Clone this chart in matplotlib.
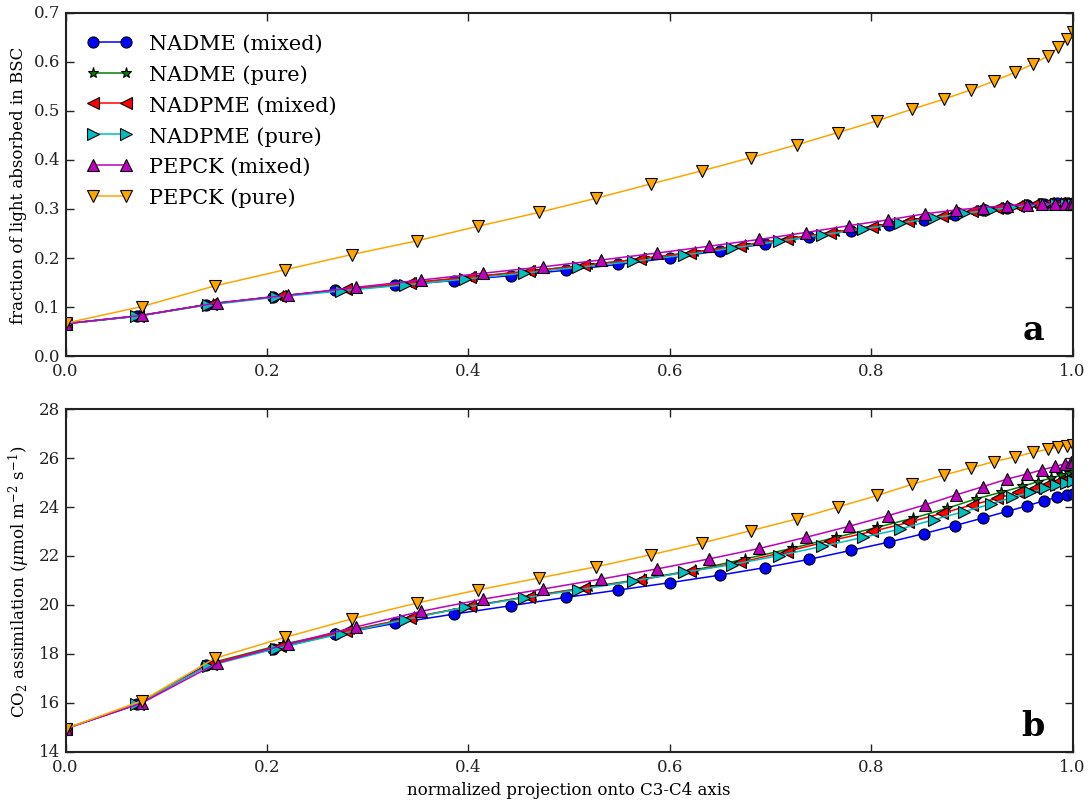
import matplotlib
matplotlib.use("Agg")
import matplotlib.pyplot as plt

plt.style.use('classic')
plt.rcParams['font.family'] = ['DejaVu Serif']
plt.rcParams['mathtext.fontset'] = 'dejavuserif'

# series: x positions on the C3-C4 axis, light fraction (a), assimilation (b)
labels = ['NADME (mixed)', 'NADME (pure)', 'NADPME (mixed)',
          'NADPME (pure)', 'PEPCK (mixed)', 'PEPCK (pure)']

x_nadme_mix = [0, 0.071, 0.140, 0.206, 0.268, 0.327, 0.386, 0.442, 0.497, 0.549, 0.600, 0.650, 0.695,
               0.738, 0.780, 0.818, 0.852, 0.883, 0.911, 0.935, 0.955, 0.972, 0.985, 0.994, 1.0]
x_nadme_pure = [0, 0.073, 0.146, 0.216, 0.283, 0.346, 0.406, 0.464, 0.520, 0.574, 0.625, 0.675, 0.721,
                0.765, 0.806, 0.842, 0.875, 0.904, 0.929, 0.950, 0.966, 0.979, 0.989, 0.996, 1.0]
x_nadpme_mix = [0, 0.072, 0.144, 0.213, 0.279, 0.342, 0.402, 0.460, 0.515, 0.570, 0.620, 0.670, 0.716,
                0.759, 0.801, 0.837, 0.870, 0.900, 0.925, 0.946, 0.963, 0.976, 0.987, 0.994, 1.0]
x_nadpme_pure = [0, 0.070, 0.141, 0.209, 0.274, 0.337, 0.397, 0.455, 0.509, 0.564, 0.614, 0.662, 0.708,
                 0.751, 0.792, 0.829, 0.862, 0.892, 0.919, 0.940, 0.958, 0.973, 0.984, 0.993, 1.0]
x_pepck_mix = [0, 0.076, 0.150, 0.221, 0.288, 0.353, 0.415, 0.474, 0.532, 0.587, 0.639, 0.689, 0.735,
               0.778, 0.817, 0.853, 0.884, 0.911, 0.935, 0.955, 0.970, 0.983, 0.992, 0.998, 1.0]
x_pepck_pure = [0, 0.076, 0.148, 0.218, 0.284, 0.349, 0.410, 0.470, 0.527, 0.581, 0.632, 0.681, 0.726,
                0.767, 0.806, 0.841, 0.872, 0.899, 0.922, 0.943, 0.961, 0.976, 0.986, 0.994, 1.0]

light_nadme_mix = [0.066, 0.081, 0.105, 0.121, 0.134, 0.144, 0.154, 0.164, 0.175, 0.187, 0.200, 0.215, 0.229,
                   0.243, 0.256, 0.267, 0.278, 0.288, 0.297, 0.303, 0.308, 0.311, 0.312, 0.312, 0.312]
light_nadme_pure = [0.066, 0.082, 0.107, 0.123, 0.137, 0.150, 0.162, 0.174, 0.186, 0.199, 0.212, 0.226, 0.240,
                    0.253, 0.266, 0.277, 0.287, 0.296, 0.303, 0.307, 0.310, 0.311, 0.312, 0.312, 0.312]
light_nadpme_mix = [0.066, 0.082, 0.106, 0.122, 0.136, 0.149, 0.161, 0.173, 0.185, 0.198, 0.211, 0.225, 0.239,
                    0.252, 0.264, 0.276, 0.286, 0.295, 0.302, 0.307, 0.310, 0.312, 0.313, 0.313, 0.313]
light_nadpme_pure = [0.066, 0.081, 0.104, 0.120, 0.133, 0.145, 0.157, 0.169, 0.181, 0.193, 0.206, 0.220, 0.234,
                     0.247, 0.259, 0.271, 0.282, 0.291, 0.298, 0.304, 0.308, 0.310, 0.311, 0.311, 0.311]
light_pepck_mix = [0.066, 0.083, 0.108, 0.124, 0.140, 0.155, 0.169, 0.182, 0.196, 0.210, 0.224, 0.238, 0.252,
                   0.266, 0.278, 0.290, 0.298, 0.303, 0.307, 0.309, 0.310, 0.311, 0.311, 0.311, 0.311]
light_pepck_pure = [0.067, 0.101, 0.143, 0.176, 0.207, 0.235, 0.265, 0.293, 0.322, 0.351, 0.378, 0.405, 0.431,
                    0.456, 0.480, 0.504, 0.524, 0.543, 0.561, 0.579, 0.596, 0.613, 0.630, 0.647, 0.662]

co2_nadme_mix = [14.95, 15.95, 17.55, 18.20, 18.80, 19.25, 19.63, 19.97, 20.31, 20.61, 20.91, 21.22, 21.53,
                 21.86, 22.23, 22.57, 22.91, 23.24, 23.55, 23.82, 24.05, 24.26, 24.40, 24.50, 24.55]
co2_nadme_pure = [14.95, 15.97, 17.65, 18.40, 18.97, 19.50, 19.98, 20.38, 20.73, 21.07, 21.43, 21.88, 22.31,
                  22.76, 23.17, 23.55, 23.94, 24.33, 24.60, 24.84, 25.04, 25.18, 25.31, 25.39, 25.42]
co2_nadpme_mix = [14.95, 15.96, 17.60, 18.33, 18.92, 19.47, 19.95, 20.34, 20.69, 21.02, 21.38, 21.74, 22.18,
                  22.62, 23.00, 23.37, 23.74, 24.08, 24.35, 24.60, 24.79, 24.94, 25.06, 25.14, 25.18]
co2_nadpme_pure = [14.95, 15.95, 17.50, 18.22, 18.83, 19.40, 19.91, 20.29, 20.62, 20.98, 21.33, 21.65, 22.01,
                   22.39, 22.76, 23.10, 23.48, 23.81, 24.12, 24.39, 24.60, 24.76, 24.90, 25.00, 25.06]
co2_pepck_mix = [14.95, 16.00, 17.62, 18.41, 19.10, 19.74, 20.24, 20.65, 21.06, 21.47, 21.88, 22.31, 22.76,
                 23.21, 23.65, 24.08, 24.49, 24.83, 25.14, 25.35, 25.52, 25.66, 25.76, 25.82, 25.84]
co2_pepck_pure = [14.95, 16.09, 17.82, 18.68, 19.43, 20.08, 20.62, 21.10, 21.56, 22.05, 22.53, 23.04, 23.51,
                  24.00, 24.47, 24.93, 25.30, 25.60, 25.85, 26.05, 26.23, 26.36, 26.46, 26.51, 26.55]

xs = [x_nadme_mix, x_nadme_pure, x_nadpme_mix, x_nadpme_pure, x_pepck_mix, x_pepck_pure]
lights = [light_nadme_mix, light_nadme_pure, light_nadpme_mix, light_nadpme_pure, light_pepck_mix, light_pepck_pure]
co2s = [co2_nadme_mix, co2_nadme_pure, co2_nadpme_mix, co2_nadpme_pure, co2_pepck_mix, co2_pepck_pure]

colors = ['b', 'g', 'r', 'c', 'm', 'orange']
markers = ['o', '*', '<', '>', '^', 'v']

fig = plt.figure(figsize=(10.9, 8.03), dpi=100, facecolor='white')
ax1 = fig.add_axes([0.0601, 0.5554, 0.9239, 0.4272])
ax2 = fig.add_axes([0.0601, 0.0623, 0.9239, 0.4271])

for x, l, c, col, m in zip(xs, lights, co2s, colors, markers):
    ax1.plot(x, l, color=col, marker=m, markersize=8, markeredgecolor='k', markeredgewidth=0.8, lw=1.1)
    ax2.plot(x, c, color=col, marker=m, markersize=8, markeredgecolor='k', markeredgewidth=0.8, lw=1.1)

for ax in (ax1, ax2):
    ax.set_xlim(0, 1.0)
    for sp in ax.spines.values():
        sp.set_linewidth(1.5)
        sp.set_color('#222222')
    ax.tick_params(labelsize=12, direction='in', length=6, width=1, colors='#222222', labelcolor='#222222')

ax1.set_ylim(0, 0.7)
ax2.set_ylim(14, 28)
ax1.set_yticks([0.0, 0.1, 0.2, 0.3, 0.4, 0.5, 0.6, 0.7])
ax2.set_yticks([14, 16, 18, 20, 22, 24, 26, 28])

ax1.set_ylabel('fraction of light absorbed in BSC', fontsize=12)
ax2.set_ylabel(r'CO$_2$ assimilation ($\mu$mol m$^{-2}$ s$^{-1}$)', fontsize=12)
ax2.set_xlabel('normalized projection onto C3-C4 axis', fontsize=12)

ax1.legend(labels, loc='upper left', frameon=False, numpoints=2, fontsize=15,
           handlelength=2.2, labelspacing=0.55, borderaxespad=0.6)

ax1.text(0.972, 0.03, 'a', transform=ax1.transAxes, fontsize=24, fontweight='bold', ha='right', va='bottom')
ax2.text(0.972, 0.03, 'b', transform=ax2.transAxes, fontsize=24, fontweight='bold', ha='right', va='bottom')

fig.savefig('out.png', dpi=100, facecolor='white')
